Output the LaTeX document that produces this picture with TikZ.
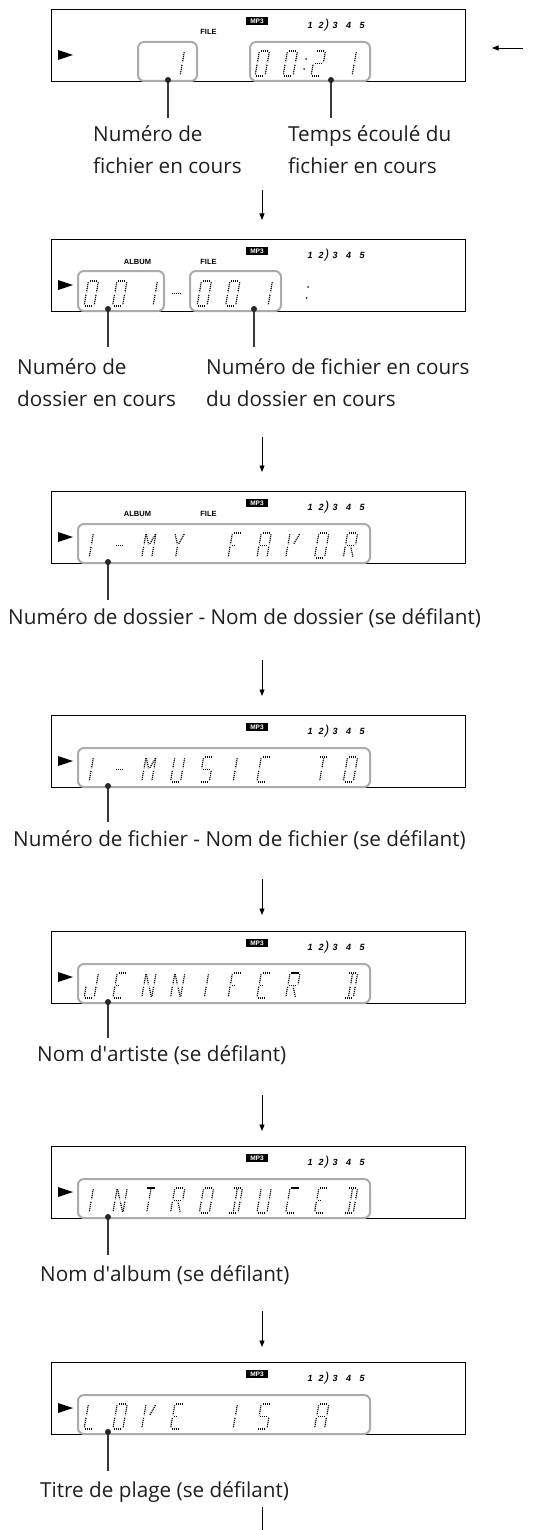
\documentclass[tikz,border=0pt]{standalone}
\usepackage{fontspec}
\setmainfont{Open Sans}
\newfontfamily\lcdfont{Liberation Sans}
\usetikzlibrary{arrows.meta}
\tikzset{
  segline/.style={line width=1.2pt, dash pattern=on 1.1pt off 0.9pt, black, shorten <=1.3pt, shorten >=1.3pt},
  dispbox/.style={draw=black, line width=1.1pt, minimum width=414.6pt, minimum height=72pt, inner sep=0pt, anchor=north west},
  innerbox/.style={draw=black!33, line width=2pt, rounded corners=6pt},
  leader/.style={draw=black!78, line width=2pt},
  leaddot/.style={fill=black!85},
  flow/.style={draw=black, line width=0.8pt, -{Triangle[width=5pt,length=6.5pt]}},
  plain/.style={draw=black, line width=0.8pt},
  lbl/.style={anchor=base west, inner sep=0pt, font=\fontsize{20.7}{25}\selectfont, text=black!88},
  mp3/.style={inner sep=0pt, text=white, font=\lcdfont\bfseries\fontsize{6.5}{7}\selectfont},
  trk/.style={inner sep=0pt, font=\lcdfont\bfseries\itshape\fontsize{9}{10}\selectfont},
  paren/.style={inner sep=0pt, font=\lcdfont\itshape\fontsize{13}{14}\selectfont},
  tag/.style={inner sep=0pt, font=\lcdfont\bfseries\fontsize{7.5}{8}\selectfont},
}
% segments of a dotted 14-segment glyph (cell 10 x 25)
\def\zzSGa{\draw[segline] (0,25)--(10,25);}
\def\zzSGb{\draw[segline] (10,25)--(10,12.5);}
\def\zzSGc{\draw[segline] (10,12.5)--(10,0);}
\def\zzSGd{\draw[segline] (0,0)--(10,0);}
\def\zzSGe{\draw[segline] (0,12.5)--(0,0);}
\def\zzSGf{\draw[segline] (0,25)--(0,12.5);}
\def\zzSGg{\draw[segline] (0,12.5)--(10,12.5);}
\def\zzSGp{\draw[segline] (0,12.5)--(5,12.5);}
\def\zzSGh{\draw[segline] (0,25)--(5,12.5);}
\def\zzSGi{\draw[segline] (5,25)--(5,12.5);}
\def\zzSGj{\draw[segline] (10,25)--(5,12.5);}
\def\zzSGl{\draw[segline] (5,12.5)--(5,0);}
\def\zzSGm{\draw[segline] (10,0)--(5,12.5);}
% letters
\def\zzLzero{a,b,c,d,e,f}
\def\zzLone{b,c}
\def\zzLtwo{a,b,g,e,d}
\def\zzLI{i,l}
\def\zzLdash{g}
\def\zzLM{e,f,h,j,b,c}
\def\zzLY{h,j,l}
\def\zzLF{a,f,e,p}
\def\zzLA{a,b,c,e,f,g}
\def\zzLV{f,e,j}
\def\zzLO{a,b,c,d,e,f}
\def\zzLR{a,b,f,e,g,m}
\def\zzLU{b,c,d,e,f}
\def\zzLS{a,f,g,c,d}
\def\zzLC{a,f,e,d}
\def\zzLT{a,i,l}
\def\zzLJ{b,c,d,e}
\def\zzLE{a,f,e,d,p}
\def\zzLN{f,e,h,m,c,b}
\def\zzLD{a,b,c,d,i,l}
\def\zzLL{f,e,d}
\def\zzLsp{}
\newcommand\chr[3]{%
  \begin{scope}[shift={(#1,#2)},xslant=0.18,y=1pt]
    \edef\zzlist{\csname zzL#3\endcsname}%
    \foreach \s in \zzlist {\csname zzSG\s\endcsname}%
  \end{scope}}
\newcommand\lcdrow[2]{% ybottom, letters on the 10-cell grid
  \foreach \ch [count=\n from 0] in {#2} {%
    \pgfmathsetmacro\zzx{84+28.8*\n}%
    \chr{\zzx}{#1}{\ch}}}
\newcommand\dispstd[2]{% top, id
  \fill (58,#1+41) -- (73,#1+46) -- (58,#1+51) -- cycle;
  \fill (246,#1+8) rectangle (268,#1+16);
  \node[mp3] (mp#2) at (257,#1+12.3) {MP3};
  \node[trk] (ta#2) at (310,#1+16) {1};
  \node[trk] (tb#2) at (321,#1+16) {2};
  \node[paren] (tp#2) at (327,#1+16) {)};
  \node[trk] (tc#2) at (335,#1+16) {3};
  \node[trk] (td#2) at (348.5,#1+16) {4};
  \node[trk] (te#2) at (362,#1+16) {5};
}
\begin{document}
\begin{tikzpicture}[x=1pt,y=-1pt]
\useasboundingbox (0,0) rectangle (545,1530);

% ---------------- display 1
\node[dispbox] (disp1) at (50.7,9) {};
\dispstd{9}{1}
\node[tag] (file1) at (208.5,32) {FILE};
\draw[innerbox] (138,42) rectangle (197,81);
\draw[innerbox] (250,42) rectangle (370,81);
\chr{170}{76}{one}
\chr{255}{76}{zero}
\chr{283}{76}{zero}
\chr{311}{76}{two}
\chr{342}{76}{one}
\fill[black!85] (306.2,59) circle[radius=1pt];
\fill[black!85] (304.2,69) circle[radius=1pt];
\coordinate (d1a) at (168,80);
\coordinate (e1a) at (168,118);
\coordinate (d1b) at (331,80);
\coordinate (e1b) at (331,118);
\draw[leader] (d1a) -- (e1a);
\draw[leader] (d1b) -- (e1b);
\fill[leaddot] (d1a) circle[radius=3pt];
\fill[leaddot] (d1b) circle[radius=3pt];
\node[lbl] (l1a) at (93,142) {Numéro de};
\node[lbl] (l1b) at (93,174) {fichier en cours};
\node[lbl] (l1c) at (288,142) {Temps écoulé du};
\node[lbl] (l1d) at (288,174) {fichier en cours};
\coordinate (in0s) at (523,48);
\coordinate (in0e) at (492,48);
\draw[flow] (in0s) -- (in0e);
\coordinate (a1s) at (262,190);
\coordinate (a1e) at (262,220);
\draw[flow] (a1s) -- (a1e);

% ---------------- display 2
\node[dispbox] (disp2) at (50.7,239) {};
\dispstd{239}{2}
\node[tag] (alb2) at (137.5,262) {ALBUM};
\node[tag] (file2) at (208.5,262) {FILE};
\draw[innerbox] (78,271) rectangle (164,311);
\draw[innerbox] (190,271) rectangle (281,311);
\chr{84}{306}{zero}
\chr{112.5}{306}{zero}
\chr{143}{306}{one}
\draw[segline,shorten <=0pt,shorten >=0pt] (172,293.5) -- (182,293.5);
\chr{197}{306}{zero}
\chr{225.5}{306}{zero}
\chr{258}{306}{one}
\fill[black!85] (308,287) circle[radius=1pt];
\fill[black!85] (306.5,298) circle[radius=1pt];
\coordinate (d2a) at (108,309);
\coordinate (e2a) at (108,347);
\coordinate (d2b) at (254,309);
\coordinate (e2b) at (254,347);
\draw[leader] (d2a) -- (e2a);
\draw[leader] (d2b) -- (e2b);
\fill[leaddot] (d2a) circle[radius=3pt];
\fill[leaddot] (d2b) circle[radius=3pt];
\node[lbl] (l2a) at (17,374) {Numéro de};
\node[lbl] (l2b) at (17,406) {dossier en cours};
\node[lbl] (l2c) at (206,374) {Numéro de fichier en cours};
\node[lbl] (l2d) at (206,406) {du dossier en cours};
\coordinate (a2s) at (262,437);
\coordinate (a2e) at (262,472);
\draw[flow] (a2s) -- (a2e);

% ---------------- display 3
\node[dispbox] (disp3) at (50.7,491) {};
\dispstd{491}{3}
\node[tag] (alb3) at (137.5,514) {ALBUM};
\node[tag] (file3) at (208.5,514) {FILE};
\draw[innerbox] (78,524) rectangle (370,563);
\lcdrow{558}{I,dash,M,Y,sp,F,A,V,O,R}
\coordinate (d3a) at (108,562);
\coordinate (e3a) at (108,600);
\draw[leader] (d3a) -- (e3a);
\fill[leaddot] (d3a) circle[radius=3pt];
\node[lbl] (l3) at (8,624) {Numéro de dossier - Nom de dossier (se défilant)};
\coordinate (a3s) at (262,660);
\coordinate (a3e) at (262,696);
\draw[flow] (a3s) -- (a3e);

% ---------------- display 4
\node[dispbox] (disp4) at (50.7,715) {};
\dispstd{715}{4}
\draw[innerbox] (78,748) rectangle (370,787);
\lcdrow{782}{I,dash,M,U,S,I,C,sp,T,O}
\coordinate (d4a) at (108,786);
\coordinate (e4a) at (108,822);
\draw[leader] (d4a) -- (e4a);
\fill[leaddot] (d4a) circle[radius=3pt];
\node[lbl] (l4) at (13,846) {Numéro de fichier - Nom de fichier (se défilant)};
\coordinate (a4s) at (262,879);
\coordinate (a4e) at (262,915);
\draw[flow] (a4s) -- (a4e);

% ---------------- display 5
\node[dispbox] (disp5) at (50.7,931) {};
\dispstd{931}{5}
\draw[innerbox] (78,964) rectangle (370,1003);
\lcdrow{998}{J,E,N,N,I,F,E,R,sp,D}
\coordinate (d5a) at (108,1002);
\coordinate (e5a) at (108,1038);
\draw[leader] (d5a) -- (e5a);
\fill[leaddot] (d5a) circle[radius=3pt];
\node[lbl] (l5) at (37,1061) {Nom d\textquotesingle artiste (se défilant)};
\coordinate (a5s) at (262,1095);
\coordinate (a5e) at (262,1131);
\draw[flow] (a5s) -- (a5e);

% ---------------- display 6
\node[dispbox] (disp6) at (50.7,1146) {};
\dispstd{1146}{6}
\draw[innerbox] (78,1179) rectangle (370,1218);
\lcdrow{1213}{I,N,T,R,O,D,U,C,E,D}
\coordinate (d6a) at (108,1217);
\coordinate (e6a) at (108,1255);
\draw[leader] (d6a) -- (e6a);
\fill[leaddot] (d6a) circle[radius=3pt];
\node[lbl] (l6) at (40,1281) {Nom d\textquotesingle album (se défilant)};
\coordinate (a6s) at (262,1311);
\coordinate (a6e) at (262,1347);
\draw[flow] (a6s) -- (a6e);

% ---------------- display 7
\node[dispbox] (disp7) at (50.7,1362) {};
\dispstd{1362}{7}
\draw[innerbox] (78,1395) rectangle (370,1434);
\lcdrow{1429}{L,O,V,E,sp,I,S,sp,A,sp}
\coordinate (d7a) at (108,1432);
\coordinate (e7a) at (108,1471);
\draw[leader] (d7a) -- (e7a);
\fill[leaddot] (d7a) circle[radius=3pt];
\node[lbl] (l7) at (40,1497) {Titre de plage (se défilant)};
\coordinate (a7s) at (262,1507);
\coordinate (a7e) at (262,1530);
\draw[plain] (a7s) -- (a7e);
\end{tikzpicture}
\end{document}
